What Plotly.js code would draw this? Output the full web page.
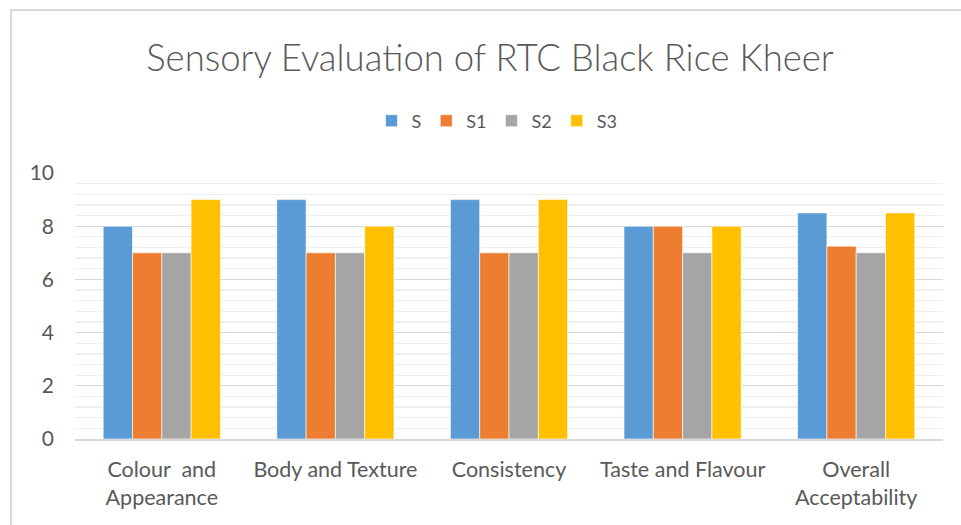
<!DOCTYPE html>
<html>
<head>
<meta charset="utf-8">
<script src="https://cdn.plot.ly/plotly-3.0.1.min.js"></script>
<style>
  html, body { margin: 0; padding: 0; background: #ffffff; }
  #wrap { position: relative; width: 961px; height: 525px; overflow: hidden; }
  #frame { position: absolute; left: 10px; top: 9px; width: 1000px; height: 600px;
           border-left: 2px solid #d9d9d9; border-top: 2px solid #d9d9d9; box-sizing: border-box; }
  #chart { position: absolute; left: 0; top: 0; width: 961px; height: 525px; }
</style>
</head>
<body>
<div id="wrap">
  <div id="frame"></div>
  <div id="chart"></div>
</div>
<script>
const categories = ["Colour  and<br>Appearance", "Body and Texture", "Consistency", "Taste and Flavour", "Overall<br>Acceptability"];
const seriesNames = ["S", "S1", "S2", "S3"];
const S  = [8, 9, 9, 8, 8.5];
const S1 = [7, 7, 7, 8, 7.25];
const S2 = [7, 7, 7, 7, 7];
const S3 = [9, 8, 9, 8, 8.5];
const colors = ["#5b9bd5", "#ed7d31", "#a5a5a5", "#ffc000"];
const yTickVals = [0, 2, 4, 6, 8, 10];

const seriesValues = [S, S1, S2, S3];
const traces = seriesValues.map((vals, i) => ({
  type: "bar",
  name: seriesNames[i],
  x: categories,
  y: vals,
  marker: { color: colors[i], line: { color: "#ffffff", width: 0.6 } },
  hoverinfo: "x+y+name"
}));

const font = "Lato, 'Open Sans', sans-serif";
const layout = {
  width: 961, height: 525,
  paper_bgcolor: "rgba(0,0,0,0)",
  plot_bgcolor: "rgba(0,0,0,0)",
  margin: { l: 75, r: 18, t: 173, b: 86, pad: 0 },
  barmode: "group",
  bargap: 0.325,
  bargroupgap: 0,
  title: {
    text: "Sensory Evaluation of RTC Black Rice Kheer",
    font: { family: font, size: 36.5, color: "#595959", weight: 300 },
    x: 490 / 961, xanchor: "center", xref: "container",
    y: 1 - 58 / 525, yref: "container", yanchor: "middle"
  },
  legend: {
    orientation: "h",
    x: (497 - 75) / 868, xanchor: "center",
    y: (439 - 121) / 266, yanchor: "middle",
    font: { family: font, size: 18, color: "#595959" },
    itemwidth: 30,
    traceorder: "normal"
  },
  xaxis: {
    type: "category",
    tickfont: { family: font, size: 21.5, color: "#595959" },
    showgrid: false,
    showline: true, linecolor: "#d9d9d9", linewidth: 1.5,
    ticks: "", ticklen: 0,
    ticklabelstandoff: 11,
    automargin: false
  },
  yaxis: {
    range: [0, 10],
    tickvals: yTickVals,
    tickfont: { family: font, size: 21, color: "#595959" },
    showgrid: true, gridcolor: "#d9d9d9", gridwidth: 1.3,
    minor: { dtick: 0.4, showgrid: true, gridcolor: "#efefef", gridwidth: 1.3 },
    zeroline: false,
    showline: false,
    ticks: "", ticklabelstandoff: 20,
    automargin: false
  },
  showlegend: true
};

Plotly.newPlot("chart", traces, layout, { displayModeBar: false, staticPlot: true });
</script>
</body>
</html>
